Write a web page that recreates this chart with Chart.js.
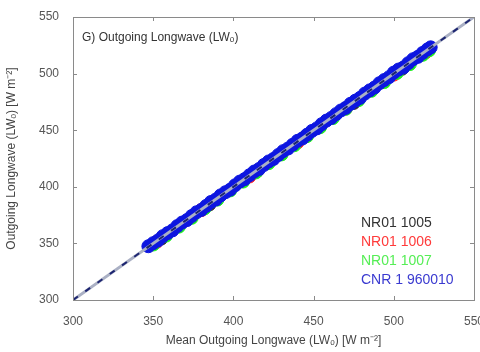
<!DOCTYPE html>
<html>
<head>
<meta charset="utf-8">
<script src="https://cdn.jsdelivr.net/npm/chart.js@4.4.1/dist/chart.umd.min.js"></script>
<style>
  html, body { margin: 0; padding: 0; background: #fff; overflow: hidden; }
  #wrap { width: 480px; height: 352px; overflow: hidden; }
  #wrap div { width: 500px; height: 352px; }
</style>
</head>
<body>
<div id="wrap"><div><canvas id="chart" width="500" height="352"></canvas></div></div>
<script>
// Datos
const ticks = [300, 350, 400, 450, 500, 550];
const refX = [300, 550];
const refY = [300, 550];

const cnrX = [347,350,353,356,359,362,365,368,371,374,377,380,383,386,389,392,395,398,401,404,407,410,413,416,419,422,425,428,431,434,437,440,443,446,449,452,455,458,461,464,467,470,473,476,479,482,485,488,491,494,497,500,503,506,509,512,515,518,521,523];
const cnrY = [347.5,350.2,352.6,356.4,359.1,361.5,365.3,368.4,370.6,374.2,377.5,379.6,383.1,386.6,388.7,392.4,395.2,397.5,401.3,404.6,406.8,410.2,413.5,415.7,419.3,422.4,424.6,428.1,431.5,433.8,437.2,440.6,442.7,446.1,449.4,451.6,455.3,458.5,460.8,464.2,467.4,469.7,473.3,476.1,478.6,482.4,485.2,487.7,491.5,494.3,496.8,500.9,503.6,505.4,509.2,512.7,514.8,518.3,521.4,523.2];

const n1007X = [350,358,366,374,382,390,398,406,414,422,430,438,446,454,462,470,478,486,494,502,510,518,522];
const n1007Y = [349.0,356.9,364.8,372.6,380.9,388.7,396.8,404.6,412.7,420.9,428.6,436.7,444.9,452.6,460.7,468.9,476.6,484.8,492.5,500.7,508.4,516.6,520.6];

const n1006X = [352,380,410,440,470,500,520];
const n1006Y = [351.2,379.4,409.1,439.3,469.2,499.1,519.0];

const n1005X = [355,385,415,445,475,505,520];
const n1005Y = [354.3,384.4,414.2,444.5,474.1,504.2,519.3];

const series = [
    { label: 'NR01 1005', color: '#333333', text: '#333333', xs: n1005X, ys: n1005Y },
    { label: 'NR01 1006', color: '#ff2a2a', text: '#ff3a3a', xs: n1006X, ys: n1006Y },
    { label: 'NR01 1007', color: '#22ee22', text: '#55ee55', xs: n1007X, ys: n1007Y },
    { label: 'CNR 1 960010', color: '#0d16e0', text: '#3a3ad0', xs: cnrX, ys: cnrY }
];

function toPoints(xs, ys) {
    return xs.map((x, i) => ({ x, y: ys[i] }));
}

const font = "'Liberation Sans', Arial, sans-serif";

const datasets = series.map((s, i) => ({
    type: 'scatter',
    label: s.label,
    data: toPoints(s.xs, s.ys),
    borderColor: s.color,
    backgroundColor: s.color,
    borderWidth: 1,
    pointRadius: 6.5,
    order: 10 - i
}));

// Linea 1:1 (gris con trazos oscuros) encima de todo
datasets.push({
    type: 'line',
    label: 'ref',
    data: toPoints(refX, refY),
    borderColor: '#aab0c4',
    borderWidth: 3,
    pointRadius: 0,
    order: 1
});
datasets.push({
    type: 'line',
    label: 'refDash',
    data: toPoints(refX, refY),
    borderColor: '#1c2470',
    borderWidth: 2,
    borderDash: [6, 9],
    pointRadius: 0,
    order: 0
});

// Marco y ticks hacia dentro
const framePlugin = {
    id: 'frame',
    afterDraw(chart) {
        const { ctx, chartArea: a, scales } = chart;
        ctx.save();
        ctx.strokeStyle = '#8a8a8a';
        ctx.lineWidth = 1;
        ctx.strokeRect(a.left + 0.5, a.top + 0.5, a.right - a.left, a.bottom - a.top);
        const len = 4;
        ticks.forEach(v => {
            const px = Math.round(scales.x.getPixelForValue(v)) + 0.5;
            const py = Math.round(scales.y.getPixelForValue(v)) + 0.5;
            ctx.beginPath();
            ctx.moveTo(px, a.bottom); ctx.lineTo(px, a.bottom - len);
            ctx.moveTo(px, a.top); ctx.lineTo(px, a.top + len);
            ctx.moveTo(a.left, py); ctx.lineTo(a.left + len, py);
            ctx.moveTo(a.right, py); ctx.lineTo(a.right - len, py);
            ctx.stroke();
        });

        // Etiqueta del panel
        ctx.fillStyle = '#333';
        ctx.font = '12px ' + font;
        ctx.textBaseline = 'middle';
        ctx.textAlign = 'left';
        ctx.fillText('G) Outgoing Longwave (LWₒ)', a.left + 9, a.top + 21);

        // Leyenda solo texto
        ctx.font = '14px ' + font;
        series.forEach((s, i) => {
            ctx.fillStyle = s.text;
            ctx.fillText(s.label, 361, 223 + i * 19);
        });
        ctx.restore();
    }
};

new Chart(document.getElementById('chart'), {
    data: { datasets },
    options: {
        responsive: false,
        animation: false,
        layout: { padding: { top: 17, right: 26, left: 0, bottom: 0 } },
        plugins: { legend: { display: false }, tooltip: { enabled: false } },
        scales: {
            x: {
                type: 'linear',
                min: 300, max: 550,
                afterFit(s) { s.height = 52; },
                afterBuildTicks(s) { s.ticks = ticks.map(v => ({ value: v })); },
                grid: { display: false },
                border: { display: false },
                ticks: { color: '#555', font: { family: font, size: 12 }, padding: 6 },
                title: {
                    display: true,
                    text: 'Mean Outgoing Longwave (LWₒ) [W m⁻²]',
                    color: '#444',
                    font: { family: font, size: 12 },
                    padding: { top: 8 }
                }
            },
            y: {
                type: 'linear',
                min: 300, max: 550,
                afterFit(s) { s.width = 73; },
                afterBuildTicks(s) { s.ticks = ticks.map(v => ({ value: v })); },
                grid: { display: false },
                border: { display: false },
                ticks: { color: '#555', font: { family: font, size: 12 }, padding: 6 },
                title: {
                    display: true,
                    text: 'Outgoing Longwave (LWₒ) [W m⁻²]',
                    color: '#444',
                    font: { family: font, size: 12 },
                    padding: { bottom: 8 }
                }
            }
        }
    },
    plugins: [framePlugin]
});
</script>
</body>
</html>
